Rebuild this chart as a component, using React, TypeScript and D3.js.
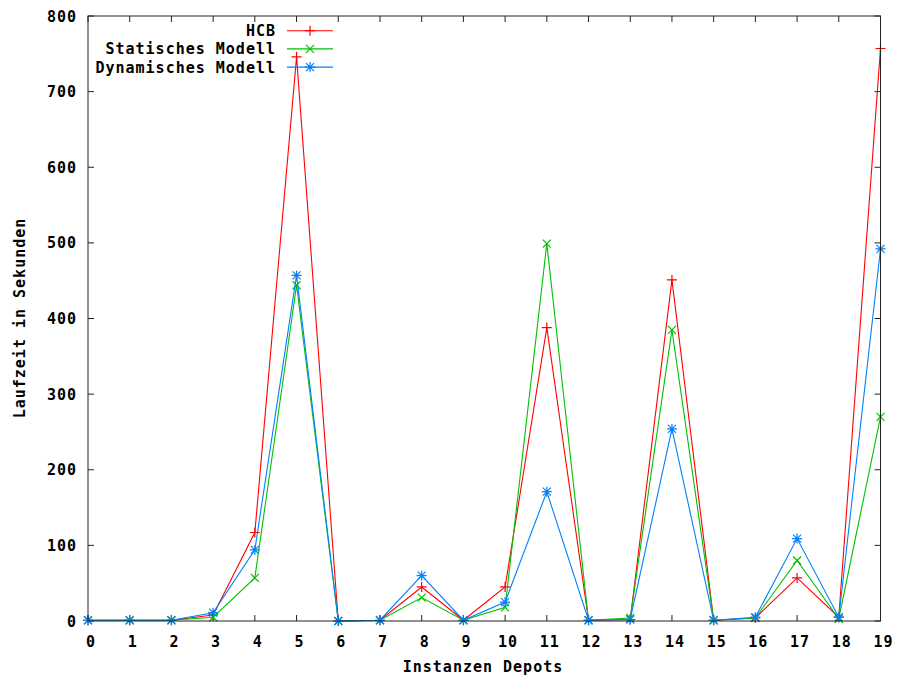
import React from "react";
import * as d3 from "d3";

const categories = [0, 1, 2, 3, 4, 5, 6, 7, 8, 9, 10, 11, 12, 13, 14, 15, 16, 17, 18, 19];
const hcb = [1, 1, 1, 8, 117, 746, 0, 1, 45, 1, 45, 388, 1, 2, 451, 1, 4, 57, 5, 757];
const statisch = [1, 1, 1, 5, 57, 444, 0, 1, 31, 1, 18, 499, 1, 4, 385, 1, 4, 80, 3, 270];
const dynamisch = [1, 1, 1, 11, 94, 457, 0, 1, 60, 1, 25, 171, 1, 2, 254, 1, 5, 109, 5, 492];
const yTicks = [0, 100, 200, 300, 400, 500, 600, 700, 800];
const seriesNames = ["HCB", "Statisches Modell", "Dynamisches Modell"];
const seriesColors = ["#ff0000", "#00c000", "#0080ff"];
const seriesMarkers = ["plus", "cross", "star"];

const W = 898;
const H = 677;
const L = 88, R = 880.5, T = 16, B = 621;
const font = "'DejaVu Sans Mono', 'Liberation Mono', monospace";

function Marker({ x, y, kind, color }: { x: number; y: number; kind: string; color: string }) {
  const s = 5;
  const d: string[] = [];
  if (kind === "plus" || kind === "star") d.push(`M${x - s},${y}H${x + s}M${x},${y - s}V${y + s}`);
  if (kind === "cross" || kind === "star") {
    const c = s * 0.8;
    d.push(`M${x - c},${y - c}L${x + c},${y + c}M${x - c},${y + c}L${x + c},${y - c}`);
  }
  return <path d={d.join("")} stroke={color} strokeWidth={1.2} fill="none" />;
}

export default function App() {
  const x = d3.scaleLinear().domain([0, 19]).range([L, R]);
  const y = d3.scaleLinear().domain([0, 800]).range([B, T]);
  const data = [hcb, statisch, dynamisch];
  const line = d3
    .line<number>()
    .x((_, i) => x(categories[i]))
    .y((v) => y(v));
  const tick = 6;
  const textStyle = { fontFamily: font, fontWeight: "bold" as const, fontSize: 15, letterSpacing: 1 };

  return (
    <svg width={W} height={H} style={{ position: "absolute", left: 0, top: 0 }}>
      <rect x={0} y={0} width={W} height={H} fill="#fff" />
      {yTicks.map((t) => (
        <g key={"y" + t}>
          <line x1={L} x2={L + tick} y1={y(t)} y2={y(t)} stroke="#222" />
          <line x1={R} x2={R - tick} y1={y(t)} y2={y(t)} stroke="#222" />
          <text x={77} y={y(t) + 5.5} textAnchor="end" {...textStyle}>
            {t}
          </text>
        </g>
      ))}
      {categories.map((c) => (
        <g key={"x" + c}>
          <line x1={x(c)} x2={x(c)} y1={B} y2={B - tick} stroke="#222" />
          <line x1={x(c)} x2={x(c)} y1={T} y2={T + tick} stroke="#222" />
          <text x={x(c) + 3} y={647} textAnchor="middle" {...textStyle}>
            {c}
          </text>
        </g>
      ))}
      {data.map((vals, si) => (
        <g key={"s" + si}>
          <path d={line(vals) || ""} stroke={seriesColors[si]} strokeWidth={1.1} fill="none" />
          {vals.map((v, i) => (
            <Marker key={i} x={x(categories[i])} y={y(v)} kind={seriesMarkers[si]} color={seriesColors[si]} />
          ))}
        </g>
      ))}
      <rect x={L} y={T} width={R - L} height={B - T} fill="none" stroke="#222" strokeWidth={1} />
      {seriesNames.map((n, i) => {
        const ly = 30.7 + i * 18.2;
        return (
          <g key={"l" + i}>
            <text x={276} y={ly + 5.5} textAnchor="end" {...textStyle}>
              {n}
            </text>
            <line x1={287} x2={333} y1={ly} y2={ly} stroke={seriesColors[i]} strokeWidth={1.1} />
            <Marker x={310} y={ly} kind={seriesMarkers[i]} color={seriesColors[i]} />
          </g>
        );
      })}
      <text x={483} y={672} textAnchor="middle" {...textStyle}>
        Instanzen Depots
      </text>
      <text transform={`translate(25,318) rotate(-90)`} textAnchor="middle" {...textStyle}>
        Laufzeit in Sekunden
      </text>
    </svg>
  );
}
